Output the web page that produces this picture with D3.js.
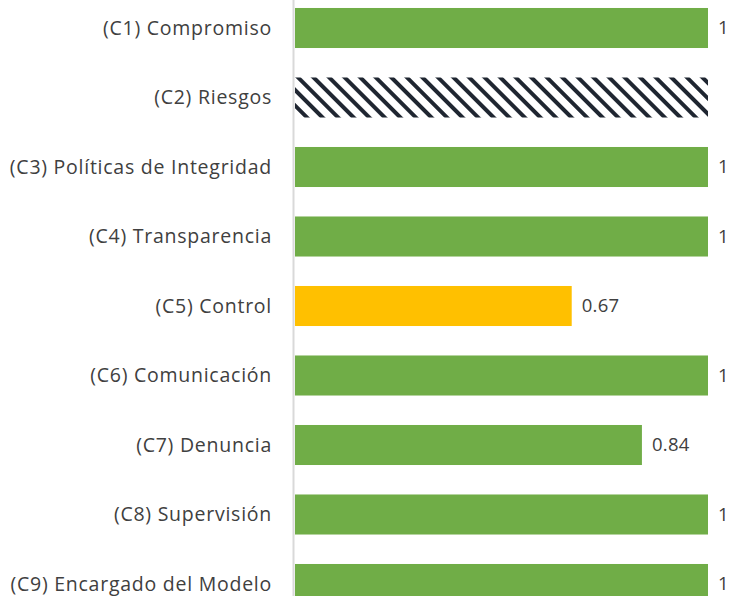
<!DOCTYPE html>
<html lang="es">
<head>
<meta charset="UTF-8" />
<title>Componentes</title>
<script src="https://cdn.jsdelivr.net/npm/d3@7"></script>
<style>
  body { margin: 0; background: #fff; overflow: hidden; }
  text { font-family: "Open Sans", "Noto Sans", sans-serif; fill: #404040; }
</style>
</head>
<body>
<svg id="chart"></svg>
<script>
// ---- data ----
const categories = [
  "(C1) Compromiso",
  "(C2) Riesgos",
  "(C3) Políticas de Integridad",
  "(C4) Transparencia",
  "(C5) Control",
  "(C6) Comunicación",
  "(C7) Denuncia",
  "(C8) Supervisión",
  "(C9) Encargado del Modelo"
];
const values = [1, 1, 1, 1, 0.67, 1, 0.84, 1, 1];
const valueLabels = ["1", "", "1", "1", "0.67", "1", "0.84", "1", "1"];
const barKinds = ["ok", "hatch", "ok", "ok", "warn", "ok", "ok", "ok", "ok"];

const width = 730, height = 596;
const colors = { ok: "#70AD47", warn: "#FFC000", hatch: "url(#hatch)" };

const svg = d3.select("#chart").attr("width", width).attr("height", height);

// hatch pattern for the unscored bar
const defs = svg.append("defs");
const pat = defs.append("pattern")
  .attr("id", "hatch")
  .attr("patternUnits", "userSpaceOnUse")
  .attr("width", 11)
  .attr("height", 11)
  .attr("patternTransform", "rotate(-45)");
pat.append("rect").attr("width", 11).attr("height", 11).attr("fill", "#fff");
pat.append("rect").attr("x", 0).attr("y", 0).attr("width", 4).attr("height", 11).attr("fill", "#1F2631");

const x = d3.scaleLinear().domain([0, 1]).range([295, 708]);
const y = d3.scaleBand().domain(categories).range([-6.75, 618.75]).paddingInner(0.424).paddingOuter(0.212);

// bars
svg.selectAll(".bar")
  .data(categories)
  .enter()
  .append("rect")
  .attr("class", "bar")
  .attr("x", x(0))
  .attr("y", d => y(d))
  .attr("width", (d, i) => x(values[i]) - x(0))
  .attr("height", y.bandwidth())
  .attr("fill", (d, i) => colors[barKinds[i]]);

// vertical axis line
svg.append("line")
  .attr("x1", x(0) - 1.5).attr("x2", x(0) - 1.5)
  .attr("y1", 0).attr("y2", height)
  .attr("stroke", "#d9d9d9")
  .attr("stroke-width", 2);

// category labels
svg.selectAll(".cat")
  .data(categories)
  .enter()
  .append("text")
  .attr("class", "cat")
  .attr("x", x(0) - 23)
  .attr("y", d => y(d) + y.bandwidth() / 2)
  .attr("dy", "0.35em")
  .attr("text-anchor", "end")
  .style("font-size", "19.5px")
  .style("letter-spacing", "0.75px")
  .text(d => d);

// value labels
svg.selectAll(".val")
  .data(categories)
  .enter()
  .append("text")
  .attr("class", "val")
  .attr("x", (d, i) => x(values[i]) + 10)
  .attr("y", d => y(d) + y.bandwidth() / 2)
  .attr("dy", "0.35em")
  .style("font-size", "18.5px")
  .style("letter-spacing", "0.3px")
  .text((d, i) => valueLabels[i]);
</script>
</body>
</html>
